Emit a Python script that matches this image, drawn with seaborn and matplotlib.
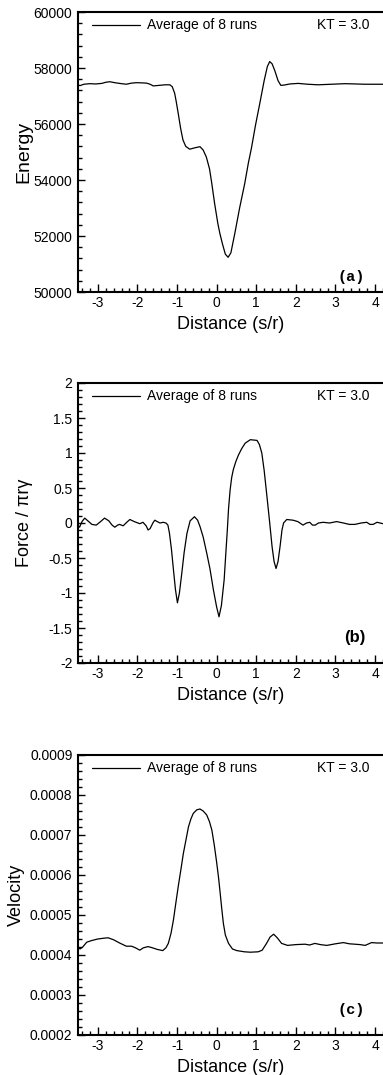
import numpy as np
import pandas as pd
import matplotlib
matplotlib.use("Agg")
import matplotlib.pyplot as plt
from matplotlib.ticker import MultipleLocator, FormatStrFormatter
import seaborn as sns

# ---- data ----
dist_a = [-3.50, -3.45, -3.35, -3.20, -3.05, -2.90, -2.80, -2.70, -2.55, -2.40,
          -2.28, -2.15, -2.03, -1.90, -1.77, -1.68, -1.60, -1.45, -1.30, -1.18,
          -1.12, -1.06, -1.02, -0.97, -0.91, -0.85, -0.78, -0.68, -0.55, -0.42,
          -0.34, -0.26, -0.18, -0.13, -0.05, 0.03, 0.08, 0.15, 0.22, 0.29,
          0.36, 0.46, 0.58, 0.71, 0.80, 0.88, 0.98, 1.09, 1.20, 1.28,
          1.34, 1.40, 1.47, 1.55, 1.62, 1.70, 1.85, 2.06, 2.30, 2.56,
          2.90, 3.24, 3.50, 3.74, 4.00, 4.20]
energy = [57400, 57370, 57420, 57440, 57430, 57450, 57490, 57510, 57470, 57440,
          57420, 57460, 57475, 57470, 57460, 57420, 57360, 57380, 57400, 57400,
          57330, 57100, 56800, 56380, 55850, 55430, 55200, 55100, 55150, 55190,
          55070, 54820, 54400, 53950, 53150, 52450, 52100, 51700, 51350, 51240,
          51400, 52100, 53000, 53880, 54600, 55150, 55950, 56740, 57550, 58050,
          58230, 58150, 57900, 57550, 57380, 57390, 57430, 57450, 57420, 57400,
          57420, 57440, 57430, 57420, 57420, 57420]

dist_b = [-3.50, -3.46, -3.40, -3.33, -3.25, -3.15, -3.04, -2.93, -2.83, -2.72,
          -2.64, -2.57, -2.50, -2.45, -2.36, -2.27, -2.19, -2.08, -1.94, -1.86,
          -1.78, -1.73, -1.68, -1.60, -1.56, -1.50, -1.43, -1.35, -1.28, -1.23,
          -1.19, -1.14, -1.09, -1.04, -0.99, -0.94, -0.88, -0.82, -0.75, -0.67,
          -0.56, -0.48, -0.42, -0.34, -0.25, -0.17, -0.08, 0.00, 0.06, 0.12,
          0.19, 0.23, 0.27, 0.30, 0.34, 0.38, 0.42, 0.48, 0.55, 0.63,
          0.72, 0.85, 1.02, 1.08, 1.14, 1.20, 1.27, 1.34, 1.40, 1.45,
          1.50, 1.55, 1.60, 1.65, 1.69, 1.77, 1.93, 2.05, 2.18, 2.27,
          2.35, 2.42, 2.49, 2.57, 2.69, 2.85, 3.03, 3.20, 3.35, 3.49,
          3.65, 3.79, 3.87, 3.95, 4.05, 4.20]
force = [-0.03, -0.06, 0.02, 0.07, 0.03, -0.02, -0.03, 0.02, 0.07, 0.03,
         -0.03, -0.06, -0.03, -0.02, -0.04, 0.01, 0.05, 0.02, -0.01, 0.01,
         -0.04, -0.10, -0.08, 0.01, 0.04, 0.02, 0.00, 0.01, 0.00, -0.03,
         -0.15, -0.38, -0.67, -0.95, -1.14, -1.00, -0.72, -0.42, -0.15, 0.03,
         0.09, 0.04, -0.05, -0.20, -0.43, -0.65, -0.96, -1.20, -1.34, -1.18,
         -0.81, -0.45, -0.10, 0.20, 0.47, 0.65, 0.76, 0.87, 0.97, 1.06,
         1.14, 1.19, 1.18, 1.12, 1.00, 0.75, 0.38, 0.00, -0.34, -0.55,
         -0.65, -0.55, -0.34, -0.10, 0.00, 0.05, 0.04, 0.02, -0.03, 0.00,
         0.01, -0.03, -0.03, 0.00, 0.01, 0.00, 0.02, 0.00, -0.02, -0.02,
         0.00, 0.01, -0.02, -0.02, 0.01, -0.01]

dist_c = [-3.50, -3.45, -3.38, -3.28, -3.16, -3.00, -2.85, -2.74, -2.60, -2.45,
          -2.28, -2.15, -2.05, -1.94, -1.85, -1.73, -1.62, -1.50, -1.36, -1.28,
          -1.22, -1.15, -1.09, -1.03, -0.97, -0.90, -0.84, -0.77, -0.71, -0.65,
          -0.59, -0.50, -0.42, -0.34, -0.25, -0.18, -0.12, -0.06, 0.00, 0.05,
          0.09, 0.13, 0.17, 0.22, 0.30, 0.40, 0.51, 0.70, 0.85, 1.05,
          1.15, 1.26, 1.35, 1.44, 1.53, 1.64, 1.79, 2.00, 2.23, 2.35,
          2.48, 2.62, 2.78, 3.00, 3.20, 3.35, 3.49, 3.62, 3.75, 3.91,
          4.05, 4.20]
velocity = [0.000421, 0.000415, 0.000420, 0.000432, 0.000436, 0.000440, 0.000442, 0.000443, 0.000438, 0.000430,
            0.000422, 0.000422, 0.000418, 0.000412, 0.000418, 0.000421, 0.000418, 0.000414, 0.000411, 0.000418,
            0.000429, 0.000455, 0.000488, 0.000530, 0.000571, 0.000615, 0.000654, 0.000690, 0.000721, 0.000740,
            0.000754, 0.000763, 0.000765, 0.000760, 0.000750, 0.000733, 0.000712, 0.000675, 0.000632, 0.000592,
            0.000554, 0.000515, 0.000479, 0.000450, 0.000429, 0.000415, 0.000411, 0.000408, 0.000407, 0.000408,
            0.000412, 0.000429, 0.000445, 0.000452, 0.000443, 0.000429, 0.000424, 0.000426, 0.000427, 0.000425,
            0.000429, 0.000426, 0.000424, 0.000428, 0.000431, 0.000428, 0.000427, 0.000426, 0.000424, 0.000431,
            0.000430, 0.000430]

legend_label = "Average of 8 runs"
kt_label = "KT = 3.0"
xlabel = "Distance (s/r)"

sns.set_style("ticks")
plt.rcParams["font.family"] = ["Liberation Sans", "DejaVu Sans"]
plt.rcParams["axes.unicode_minus"] = False
plt.rcParams["text.color"] = "black"
plt.rcParams["axes.labelcolor"] = "black"
plt.rcParams["xtick.color"] = "black"
plt.rcParams["ytick.color"] = "black"

fig = plt.figure(figsize=(3.83, 10.75), dpi=100)
W, H = 383.0, 1075.0
left = 78 / W
width = 1 - left
height = 280 / H

panels = [
    dict(x=dist_a, y=energy, top=12, ylim=(50000, 60000), major=2000, minor=400,
         fmt="%d", ylabel="Energy", ylx=-0.151, ysize=14, tag="(a)",
         tagfont=dict(family="Liberation Mono", weight="bold", size=11), tagy=0.055),
    dict(x=dist_b, y=force, top=383, ylim=(-2, 2), major=0.5, minor=0.1,
         fmt=None, ylabel="Force / \u03c0r\u03b3", ylx=-0.148, ysize=13, tag="(b)",
         tagfont=dict(family="Liberation Sans", weight="bold", size=12), tagy=0.09),
    dict(x=dist_c, y=velocity, top=755, ylim=(0.0002, 0.0009), major=0.0001, minor=0.00002,
         fmt="%.4f", ylabel="Velocity", ylx=-0.174, ysize=13, tag="(c)",
         tagfont=dict(family="Liberation Mono", weight="bold", size=11), tagy=0.09),
]

for p in panels:
    bottom = 1 - (p["top"] + 280) / H
    ax = fig.add_axes([left, bottom, width, height])
    df = pd.DataFrame({"dist": p["x"], "val": p["y"]})
    sns.lineplot(data=df, x="dist", y="val", ax=ax, color="black", lw=0.9,
                 sort=False, estimator=None, label=legend_label)
    ax.set_xlim(-3.5, 4.2)
    ax.set_ylim(*p["ylim"])
    ax.xaxis.set_major_locator(MultipleLocator(1))
    ax.xaxis.set_minor_locator(MultipleLocator(0.2))
    ax.yaxis.set_major_locator(MultipleLocator(p["major"]))
    ax.yaxis.set_minor_locator(MultipleLocator(p["minor"]))
    if p["fmt"]:
        ax.yaxis.set_major_formatter(FormatStrFormatter(p["fmt"]))
    else:
        ax.yaxis.set_major_formatter(plt.FuncFormatter(lambda v, pos: f"{v:g}"))
    ax.tick_params(which="both", direction="in", top=False, right=False,
                   labelsize=10, width=1, colors="black")
    ax.tick_params(axis="y", which="major", length=5, pad=4)
    ax.tick_params(axis="y", which="minor", length=3)
    ax.tick_params(axis="x", which="major", length=6, pad=3)
    ax.tick_params(axis="x", which="minor", length=3)
    for s in ["left", "bottom", "top"]:
        ax.spines[s].set_linewidth(1.5)
        ax.spines[s].set_color("black")
    ax.spines["right"].set_visible(False)
    ax.set_xlabel(xlabel, fontsize=13, labelpad=4)
    ax.set_ylabel(p["ylabel"], fontsize=p["ysize"])
    ax.yaxis.set_label_coords(p["ylx"], 0.5)
    leg = ax.legend(loc="center left", bbox_to_anchor=(0.045, 0.952), frameon=False,
                    fontsize=10, handlelength=3.5, handletextpad=0.5,
                    borderpad=0, borderaxespad=0)
    for t in leg.get_texts():
        t.set_color("black")
    ax.text(0.784, 0.952, kt_label, transform=ax.transAxes, fontsize=10,
            ha="left", va="center")
    ax.text(0.941, p["tagy"], p["tag"], transform=ax.transAxes, ha="right",
            va="center", **p["tagfont"])

fig.savefig("out.png", dpi=100)
